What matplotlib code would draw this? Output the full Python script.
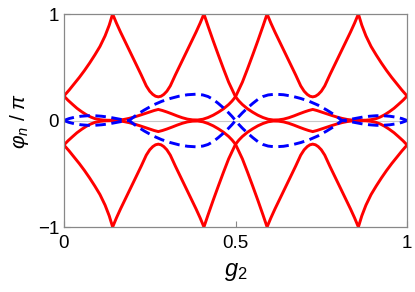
import numpy as np
import matplotlib
matplotlib.use("Agg")
import matplotlib.pyplot as plt

plt.rcParams['font.family'] = ['Liberation Sans', 'DejaVu Sans']
plt.rcParams['mathtext.fontset'] = 'custom'
plt.rcParams['mathtext.rm'] = 'Liberation Sans'
plt.rcParams['mathtext.it'] = 'Liberation Sans:italic'

# half range g2 in [0, 0.5]; the other half is the mirror image
outer_x = [0, 0.015, 0.03, 0.045, 0.06, 0.075, 0.09, 0.105, 0.12, 0.132, 0.142,
           0.153, 0.165, 0.18, 0.195, 0.21, 0.225, 0.24, 0.25, 0.259, 0.267, 0.275,
           0.283, 0.291, 0.3, 0.31, 0.325, 0.34, 0.355, 0.37, 0.385, 0.397, 0.408,
           0.42, 0.435, 0.45, 0.465, 0.48, 0.5]
outer_y = [0.23, 0.285, 0.345, 0.405, 0.47, 0.54, 0.615, 0.695, 0.795, 0.895, 1.0,
           0.915, 0.83, 0.73, 0.63, 0.53, 0.43, 0.325, 0.275, 0.245, 0.228, 0.222,
           0.228, 0.245, 0.275, 0.325, 0.43, 0.53, 0.63, 0.73, 0.83, 0.915, 1.0,
           0.886, 0.748, 0.615, 0.485, 0.36, 0.223]

inner_x = [0, 0.012, 0.025, 0.038, 0.052, 0.065, 0.078, 0.09, 0.105, 0.12, 0.14, 0.16,
           0.175, 0.19, 0.205, 0.22, 0.235, 0.25, 0.263, 0.275, 0.287, 0.3, 0.315, 0.33,
           0.345, 0.36, 0.375, 0.39, 0.405, 0.42, 0.435, 0.45, 0.465, 0.48, 0.49, 0.5]
inner_y = [0.23, 0.19, 0.152, 0.115, 0.082, 0.055, 0.033, 0.018, 0.008, 0.003, 0.002, 0.004,
           0.01, 0.02, 0.033, 0.048, 0.064, 0.08, 0.094, 0.104, 0.094, 0.08, 0.062, 0.043,
           0.026, 0.013, 0.006, 0.005, 0.012, 0.028, 0.05, 0.078, 0.11, 0.15, 0.183, 0.223]

blue_x = [0, 0.015, 0.03, 0.05, 0.07, 0.09, 0.11, 0.13, 0.15, 0.165, 0.18, 0.19, 0.2,
          0.215, 0.235, 0.26, 0.285, 0.31, 0.335, 0.36, 0.385, 0.405, 0.42, 0.435,
          0.45, 0.465, 0.48, 0.49, 0.5]
blue_y = [0, 0.018, 0.03, 0.04, 0.045, 0.045, 0.04, 0.032, 0.02, 0.011, 0.004, 0.0, 0.025,
          0.06, 0.1, 0.145, 0.18, 0.207, 0.228, 0.242, 0.247, 0.24, 0.225, 0.198,
          0.16, 0.118, 0.072, 0.038, 0.0]


def join(xl, yl, xr, yr):
    # left half as read, right half mirrored about g2 = 0.5
    xl, yl, xr, yr = map(np.asarray, (xl, yl, xr, yr))
    x = np.concatenate([xl, 1 - xr[::-1][1:]])
    y = np.concatenate([yl, yr[::-1][1:]])
    return x, y


fig = plt.figure(figsize=(4.15, 2.92), dpi=100)
ax = fig.add_axes([0.154, 0.2226, 0.827, 0.7294])

ax.axhline(0, color='#c8c8c8', lw=0.8, zorder=0)

red_curves = [join(outer_x, outer_y, inner_x, inner_y),
              join(inner_x, inner_y, outer_x, outer_y)]
for x, y in red_curves:
    ax.plot(x, y, color='red', lw=2.1, solid_joinstyle='miter')
    ax.plot(x, -y, color='red', lw=2.1, solid_joinstyle='miter')

bx, by = join(blue_x, blue_y, blue_x, -np.asarray(blue_y))
for s in (1, -1):
    ax.plot(bx, s * by, color='blue', lw=2.1, dashes=(3.6, 1.9))

ax.set_xlim(0, 1)
ax.set_ylim(-1, 1)
ax.set_xticks([0, 0.5, 1])
ax.set_xticklabels(['0', '0.5', '1'])
ax.set_yticks([-1, 0, 1])
ax.set_yticklabels(['\u22121', '0', '1'])
ax.tick_params(direction='in', length=4, width=0.8, color='#888888', labelsize=13.5)
ax.tick_params(axis='x', pad=5.5)
ax.tick_params(axis='y', pad=3.5)
for sp in ax.spines.values():
    sp.set_color('#888888')
    sp.set_linewidth(0.9)

ax.set_xlabel(r'$g_2$', fontsize=17, labelpad=7)
ax.set_ylabel(r'$\varphi_n\ /\ \pi$', fontsize=15, labelpad=5)

fig.savefig('out.png', dpi=100)
